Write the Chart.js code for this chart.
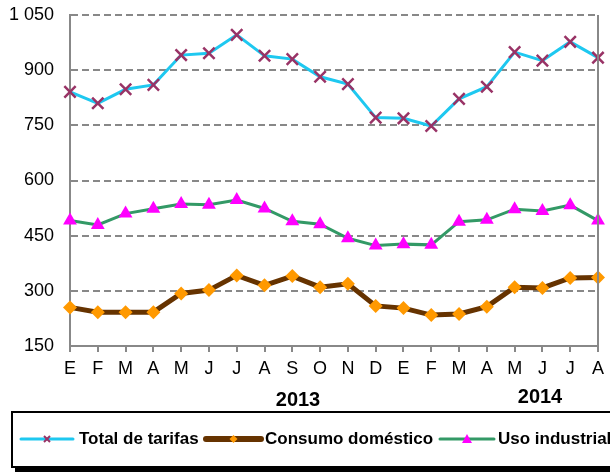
<!DOCTYPE html>
<html>
<head>
<meta charset="utf-8">
<script src="https://cdn.jsdelivr.net/npm/chart.js@4.4.0/dist/chart.umd.min.js"></script>
<style>
  html, body { margin: 0; padding: 0; background: #fff; }
  canvas { display: block; }
</style>
</head>
<body>
<canvas id="myChart" width="610" height="472"></canvas>
<script>
// months, Jan 2013 .. Aug 2014
const months = ['E', 'F', 'M', 'A', 'M', 'J', 'J', 'A', 'S', 'O', 'N', 'D',
                'E', 'F', 'M', 'A', 'M', 'J', 'J', 'A'];
const totalTarifas = [841, 810, 848, 860, 941, 946, 996, 939, 930, 882, 862, 771,
                      769, 748, 822, 855, 949, 926, 977, 934];
const consumoDomestico = [255, 242, 242, 242, 293, 302, 342, 315, 340, 310, 319, 259,
                          253, 234, 237, 257, 310, 308, 335, 336];
const usoIndustrial = [491, 479, 510, 523, 536, 534, 547, 524, 489, 481, 443, 423,
                       427, 425, 488, 493, 522, 517, 533, 491];
const yearLabels = ['2013', '2014'];
const seriesNames = ['Total de tarifas', 'Consumo doméstico', 'Uso industrial'];

const FONT = 'Arial, "Liberation Sans", sans-serif';

// right border, year labels and the boxed legend
const extras = {
    id: 'extras',
    afterDraw(chart) {
        const ctx = chart.ctx;
        const a = chart.chartArea;
        ctx.save();
        ctx.strokeStyle = '#888';
        ctx.lineWidth = 2;
        ctx.beginPath();
        ctx.moveTo(a.right, a.top);
        ctx.lineTo(a.right, a.bottom);
        ctx.stroke();

        ctx.fillStyle = '#000';
        ctx.font = 'bold 20px ' + FONT;
        ctx.textAlign = 'center';
        ctx.textBaseline = 'middle';
        ctx.fillText(yearLabels[0], 298, 400);
        ctx.fillText(yearLabels[1], 540, 397);

        // legend box with shadow
        ctx.fillStyle = '#000';
        ctx.fillRect(15, 415, 600, 57);
        ctx.fillStyle = '#fff';
        ctx.fillRect(12, 412, 600, 55);
        ctx.strokeStyle = '#000';
        ctx.lineWidth = 2;
        ctx.strokeRect(12, 412, 600, 55);

        const y = 439;
        const items = [
            {x0: 21, x1: 73, tx: 79, color: '#1ec8f0', w: 3, name: seriesNames[0]},
            {x0: 206, x1: 261, tx: 265, color: '#663300', w: 6, name: seriesNames[1]},
            {x0: 440, x1: 494, tx: 498, color: '#339966', w: 3, name: seriesNames[2]}
        ];
        items.forEach((it, i) => {
            ctx.strokeStyle = it.color;
            ctx.lineWidth = it.w;
            ctx.lineCap = 'round';
            ctx.beginPath();
            ctx.moveTo(it.x0, y);
            ctx.lineTo(it.x1, y);
            ctx.stroke();
            ctx.lineCap = 'butt';
            const cx = (it.x0 + it.x1) / 2;
            if (i === 0) {
                ctx.strokeStyle = '#993366';
                ctx.lineWidth = 2;
                ctx.beginPath();
                ctx.moveTo(cx - 3, y - 3); ctx.lineTo(cx + 3, y + 3);
                ctx.moveTo(cx + 3, y - 3); ctx.lineTo(cx - 3, y + 3);
                ctx.stroke();
            } else if (i === 1) {
                ctx.fillStyle = '#ff9900';
                ctx.beginPath();
                ctx.moveTo(cx, y - 4); ctx.lineTo(cx + 4, y);
                ctx.lineTo(cx, y + 4); ctx.lineTo(cx - 4, y);
                ctx.closePath();
                ctx.fill();
            } else {
                ctx.fillStyle = '#ff00ff';
                ctx.beginPath();
                ctx.moveTo(cx, y - 5); ctx.lineTo(cx + 5, y + 4);
                ctx.lineTo(cx - 5, y + 4);
                ctx.closePath();
                ctx.fill();
            }
            ctx.fillStyle = '#000';
            ctx.font = 'bold 17px ' + FONT;
            ctx.textAlign = 'left';
            ctx.fillText(it.name, it.tx, y);
        });
        ctx.restore();
    }
};

const ctx = document.getElementById('myChart');

const myChart = new Chart(ctx, {
    type: 'line',
    data: {
        labels: months,
        datasets: [{
            label: seriesNames[0],
            data: totalTarifas,
            borderColor: '#1ec8f0',
            borderWidth: 3,
            pointStyle: 'crossRot',
            pointRadius: 8,
            pointBorderColor: '#993366',
            pointBorderWidth: 2.5,
            tension: 0
        }, {
            label: seriesNames[1],
            data: consumoDomestico,
            borderColor: '#663300',
            borderWidth: 5,
            pointStyle: 'rectRot',
            pointRadius: 7,
            pointBackgroundColor: '#ff9900',
            pointBorderColor: '#ff9900',
            pointBorderWidth: 0,
            tension: 0
        }, {
            label: seriesNames[2],
            data: usoIndustrial,
            borderColor: '#339966',
            borderWidth: 3,
            pointStyle: 'triangle',
            pointRadius: 8,
            pointBackgroundColor: '#ff00ff',
            pointBorderColor: '#ff00ff',
            pointBorderWidth: 0,
            tension: 0
        }]
    },
    options: {
        responsive: false,
        animation: false,
        layout: {
            padding: {top: 15, right: 8, bottom: 0, left: 0}
        },
        scales: {
            x: {
                offset: false,
                grid: {
                    drawOnChartArea: false,
                    drawTicks: true,
                    tickLength: 6,
                    color: '#888',
                    lineWidth: 2
                },
                border: {color: '#888', width: 2},
                ticks: {
                    color: '#000',
                    font: {family: FONT, size: 18},
                    padding: 6,
                    maxRotation: 0,
                    autoSkip: false
                },
                afterFit(scale) { scale.height = 126; }
            },
            y: {
                min: 150,
                max: 1050,
                grid: {
                    color: '#888',
                    lineWidth: 2,
                    drawTicks: false
                },
                border: {color: '#888', width: 2, dash: [7, 4]},
                ticks: {
                    stepSize: 150,
                    color: '#000',
                    padding: 16,
                    font: {family: FONT, size: 18},
                    callback: (v) => v >= 1000 ? Math.floor(v / 1000) + ' ' + String(v % 1000).padStart(3, '0') : v
                },
                afterFit(scale) {
                    scale.width = 70;
                    scale.paddingTop = 0;
                    scale.paddingBottom = 0;
                }
            }
        },
        plugins: {
            legend: {display: false},
            tooltip: {enabled: false}
        }
    },
    plugins: [extras]
});
</script>
</body>
</html>
